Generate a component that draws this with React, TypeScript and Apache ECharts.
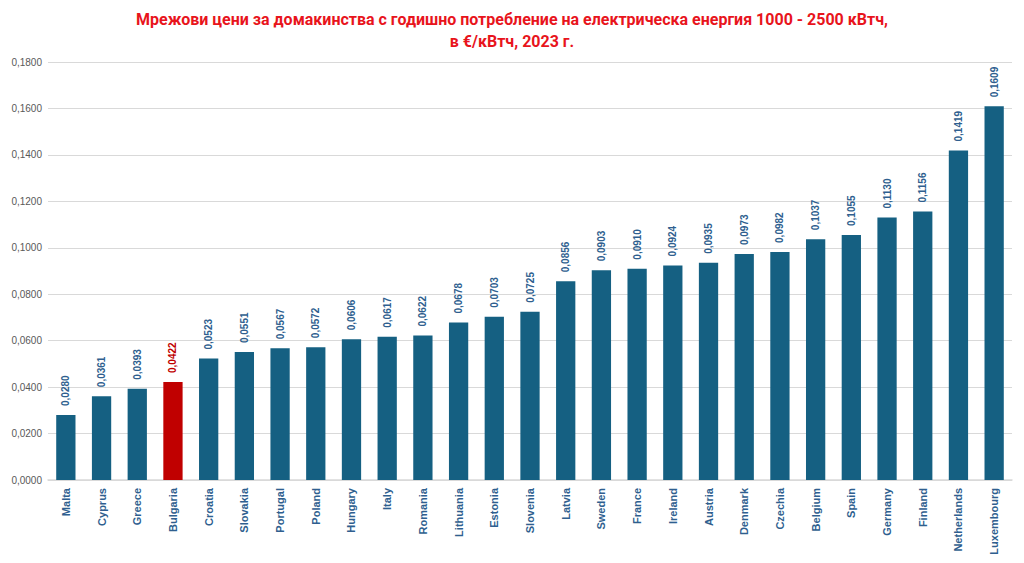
import { useEffect, useRef } from "react";
import * as echarts from "echarts";

const countries = [
  "Malta", "Cyprus", "Greece", "Bulgaria", "Croatia", "Slovakia", "Portugal", "Poland",
  "Hungary", "Italy", "Romania", "Lithuania", "Estonia", "Slovenia", "Latvia", "Sweden",
  "France", "Ireland", "Austria", "Denmark", "Czechia", "Belgium", "Spain", "Germany",
  "Finland", "Netherlands", "Luxembourg",
];
const prices = [
  0.028, 0.0361, 0.0393, 0.0422, 0.0523, 0.0551, 0.0567, 0.0572,
  0.0606, 0.0617, 0.0622, 0.0678, 0.0703, 0.0725, 0.0856, 0.0903,
  0.091, 0.0924, 0.0935, 0.0973, 0.0982, 0.1037, 0.1055, 0.113,
  0.1156, 0.1419, 0.1609,
];
const highlight = "Bulgaria";

const fmt = (v: number) => v.toFixed(4).replace(".", ",");

export default function App() {
  const ref = useRef<HTMLDivElement | null>(null);

  useEffect(() => {
    if (!ref.current) return;
    const chart = echarts.init(ref.current, undefined, { renderer: "svg" });
    chart.setOption({
      animation: false,
      backgroundColor: "#ffffff",
      title: {
        text: "Мрежови цени за домакинства с годишно потребление на електрическа енергия 1000 - 2500 кВтч,\nв €/кВтч, 2023 г.",
        left: "center",
        top: 0,
        padding: [0, 5, 5, 5],
        textStyle: {
          color: "#e8141c",
          fontSize: 16,
          fontWeight: "bold",
          fontFamily: "Liberation Sans Narrow, Roboto, sans-serif",
          lineHeight: 22,
        },
      },
      grid: { left: 40, right: 4, top: 54, bottom: 75, outerBoundsMode: "none" },
      xAxis: {
        type: "category",
        data: countries,
        axisTick: { show: false },
        axisLine: { lineStyle: { color: "#d9d9d9", width: 1.5 } },
        axisLabel: {
          rotate: 90,
          interval: 0,
          color: "#2f5f8f",
          fontWeight: "bold",
          fontSize: 11,
          fontFamily: "Liberation Sans, Arial, sans-serif",
          margin: 8,
        },
      },
      yAxis: {
        type: "value",
        min: 0,
        max: 0.18,
        interval: 0.02,
        axisLabel: {
          formatter: (v: number) => fmt(v),
          color: "#595959",
          fontSize: 10,
          fontFamily: "Liberation Sans, Arial, sans-serif",
          margin: 6,
        },
        splitLine: { lineStyle: { color: "#d9d9d9" } },
      },
      series: [
        {
          type: "bar",
          barWidth: "54%",
          data: prices.map((v, i) => ({
            value: v,
            itemStyle: { color: countries[i] === highlight ? "#c00000" : "#156082" },
            label: { color: countries[i] === highlight ? "#c00000" : "#2f5f8f" },
          })),
          label: {
            show: true,
            position: "top",
            rotate: 90,
            align: "left",
            verticalAlign: "middle",
            distance: 9,
            formatter: (p: any) => fmt(p.value),
            fontWeight: "bold",
            fontSize: 10,
            fontFamily: "Liberation Sans, Arial, sans-serif",
          },
        },
      ],
    });
    return () => chart.dispose();
  }, []);

  return <div ref={ref} style={{ width: 1008, height: 547 }} />;
}
